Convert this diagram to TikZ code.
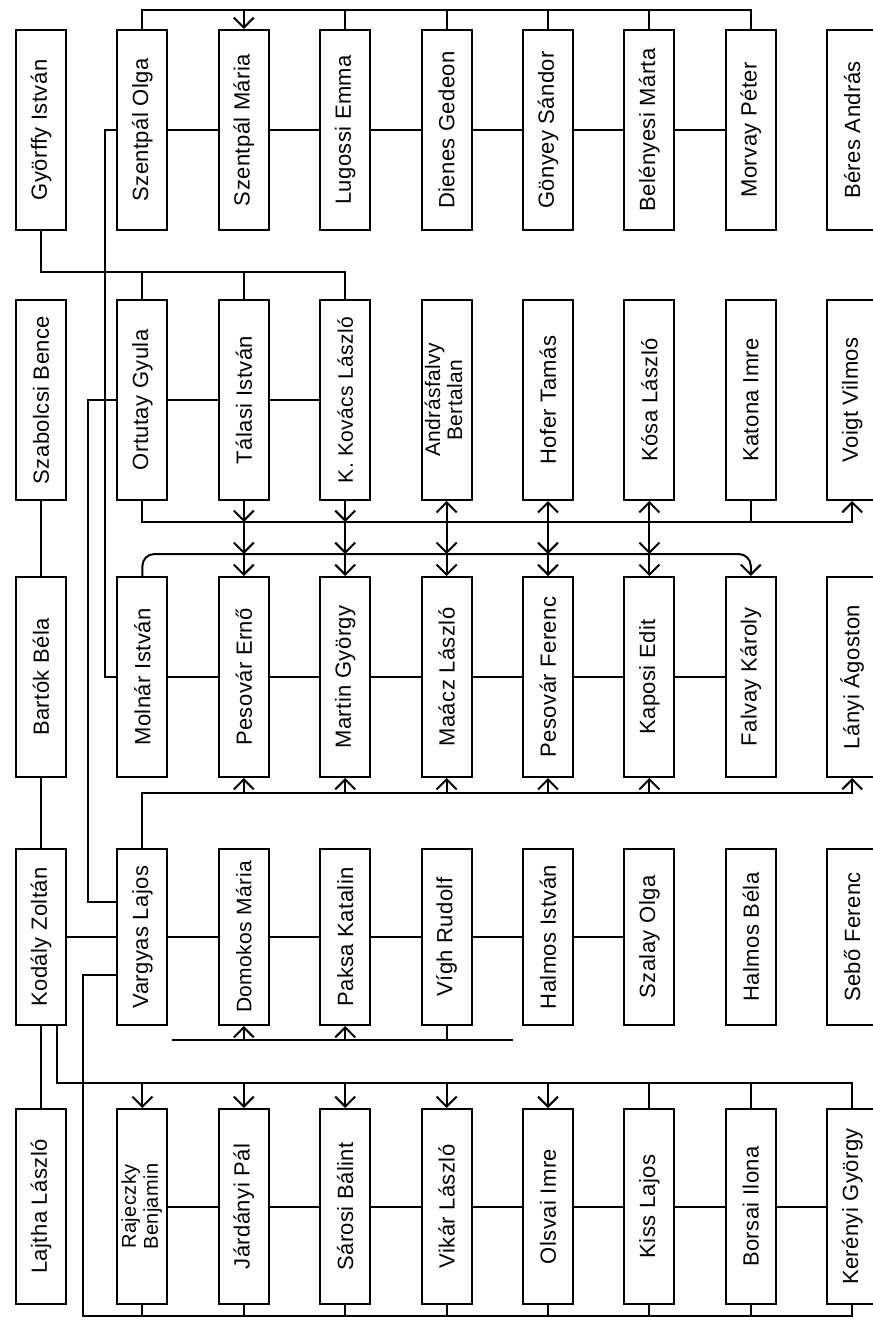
\documentclass[tikz,border=0pt]{standalone}
\usepackage{fontspec}
\setmainfont{Liberation Sans}[LetterSpace=2]
\usepackage{graphicx}
\usetikzlibrary{arrows.meta,positioning}
\newcommand{\vname}[1]{\rotatebox{90}{#1}}
\newcommand{\vnametwo}[2]{\rotatebox{90}{\begin{tabular}{@{}c@{}}#1\\#2\end{tabular}}}
\tikzset{
  nm/.style={draw, rectangle, line width=1pt, minimum width=25pt, minimum height=100pt, inner sep=0pt, font=\fontsize{11}{13}\selectfont},
  nmd/.style={nm, minimum height=88pt},
  nme/.style={nm, minimum height=97.5pt},
  ln/.style={line width=1pt},
  arr/.style={-{Straight Barb[length=5pt,width=10pt]}, line width=1pt},
}

\begin{document}
\begin{tikzpicture}[x=0.5pt, y=-0.5pt, node distance=24.7pt]
\useasboundingbox (0,0) rectangle (873,1329);

% first row
\node[nm] (gyorffy) at (41,130) {\vname{Györffy István}};
\node[nm, right=of gyorffy] (szolga) {\vname{Szentpál Olga}};
\node[nm, right=of szolga] (szmaria) {\vname{Szentpál Mária}};
\node[nm, right=of szmaria] (lugossi) {\vname{Lugossi Emma}};
\node[nm, right=of lugossi] (dienes) {\vname{Dienes Gedeon}};
\node[nm, right=of dienes] (gonyey) {\vname{Gönyey Sándor}};
\node[nm, right=of gonyey] (belenyesi) {\vname{Belényesi Márta}};
\node[nm, right=of belenyesi] (morvay) {\vname{Morvay Péter}};
\node[nm, right=of morvay] (beres) {\vname{Béres András}};

% second row
\node[nm, below=34pt of gyorffy] (szabolcsi) {\vname{Szabolcsi Bence}};
\node[nm, right=of szabolcsi] (ortutay) {\vname{Ortutay Gyula}};
\node[nm, right=of ortutay] (talasi) {\vname{Tálasi István}};
\node[nm, right=of talasi, font=\fontsize{10.5}{13}\selectfont] (kkovacs) {\vname{K. Kovács László}};
\node[nm, right=of kkovacs, font=\fontsize{10.5}{11}\selectfont] (andras) {\vnametwo{Andrásfalvy}{Bertalan}};
\node[nm, right=of andras] (hofer) {\vname{Hofer Tamás}};
\node[nm, right=of hofer] (kosa) {\vname{Kósa László}};
\node[nm, right=of kosa] (katona) {\vname{Katona Imre}};
\node[nm, right=of katona] (voigt) {\vname{Voigt Vilmos}};

% third row
\node[nm, below=37.5pt of szabolcsi] (bartok) {\vname{Bartók Béla}};
\node[nm, right=of bartok] (molnar) {\vname{Molnár István}};
\node[nm, right=of molnar] (pesovare) {\vname{Pesovár Ernő}};
\node[nm, right=of pesovare] (martin) {\vname{Martin György}};
\node[nm, right=of martin] (maacz) {\vname{Maácz László}};
\node[nm, right=of maacz] (pesovarf) {\vname{Pesovár Ferenc}};
\node[nm, right=of pesovarf] (kaposi) {\vname{Kaposi Edit}};
\node[nm, right=of kaposi] (falvay) {\vname{Falvay Károly}};
\node[nm, right=of falvay] (lanyi) {\vname{Lányi Ágoston}};

% fourth row
\node[nmd, below=35pt of bartok] (kodaly) {\vname{Kodály Zoltán}};
\node[nmd, right=of kodaly] (vargyas) {\vname{Vargyas Lajos}};
\node[nmd, right=of vargyas, font=\fontsize{10.5}{13}\selectfont] (domokos) {\vname{Domokos Mária}};
\node[nmd, right=of domokos] (paksa) {\vname{Paksa Katalin}};
\node[nmd, right=of paksa] (vigh) {\vname{Vígh Rudolf}};
\node[nmd, right=of vigh] (halmosi) {\vname{Halmos István}};
\node[nmd, right=of halmosi] (szalay) {\vname{Szalay Olga}};
\node[nmd, right=of szalay] (halmosb) {\vname{Halmos Béla}};
\node[nmd, right=of halmosb] (sebo) {\vname{Sebő Ferenc}};

% fifth row
\node[nme, below=41pt of kodaly] (lajtha) {\vname{Lajtha László}};
\node[nme, right=of lajtha, font=\fontsize{10}{11}\selectfont] (rajeczky) {\vnametwo{Rajeczky}{Benjamin}};
\node[nme, right=of rajeczky] (jardanyi) {\vname{Járdányi Pál}};
\node[nme, right=of jardanyi] (sarosi) {\vname{Sárosi Bálint}};
\node[nme, right=of sarosi] (vikar) {\vname{Vikár László}};
\node[nme, right=of vikar] (olsvai) {\vname{Olsvai Imre}};
\node[nme, right=of olsvai] (kiss) {\vname{Kiss Lajos}};
\node[nme, right=of kiss] (borsai) {\vname{Borsai Ilona}};
\node[nme, right=of borsai] (kerenyi) {\vname{Kerényi György}};

% bus levels and side lines
\coordinate (topbus) at (0,10);
\coordinate (gybus) at (0,272);
\coordinate (kbus) at (0,522);
\coordinate (mbus) at (0,554);
\coordinate (dbus) at (0,793);
\coordinate (vbusL) at (172,1040);
\coordinate (vbusR) at (513,1040);
\coordinate (ebus) at (0,1083);
\coordinate (bbus) at (0,1316);
\coordinate (molx) at (105,0);
\coordinate (ortx) at (88,0);
\coordinate (vx) at (83,0);
\coordinate (vgup) at ([yshift=17.5pt]vargyas.west);
\coordinate (vglo) at ([yshift=-19pt]vargyas.west);
\coordinate (kdl) at ([xshift=8pt]kodaly.south);

% rows
\draw[ln] (szolga) -- (szmaria) -- (lugossi) -- (dienes) -- (gonyey) -- (belenyesi) -- (morvay);
\draw[ln] (ortutay) -- (talasi) -- (kkovacs);
\draw[ln] (molnar) -- (pesovare) -- (martin) -- (maacz) -- (pesovarf) -- (kaposi) -- (falvay);
\draw[ln] (kodaly) -- (vargyas) -- (domokos) -- (paksa) -- (vigh) -- (halmosi) -- (szalay);
\draw[ln] (rajeczky) -- (jardanyi) -- (sarosi) -- (vikar) -- (olsvai) -- (kiss) -- (borsai) -- (kerenyi);

% left column
\draw[ln] (szabolcsi) -- (bartok);
\draw[ln] (bartok) -- (kodaly);
\draw[ln] (kodaly) -- (lajtha);

% top bus
\draw[ln] (szolga.north) -- (szolga.north |- topbus) -- (morvay.north |- topbus) -- (morvay.north);
\draw[arr] (szmaria.north |- topbus) -- (szmaria.north);
\draw[ln] (lugossi.north |- topbus) -- (lugossi.north);
\draw[ln] (dienes.north |- topbus) -- (dienes.north);
\draw[ln] (gonyey.north |- topbus) -- (gonyey.north);
\draw[ln] (belenyesi.north |- topbus) -- (belenyesi.north);

% Gyorffy
\draw[ln] (gyorffy.south) -- (gyorffy.south |- gybus) -- (kkovacs.north |- gybus) -- (kkovacs.north);
\draw[ln] (ortutay.north |- gybus) -- (ortutay.north);
\draw[ln] (talasi.north |- gybus) -- (talasi.north);

% side lines
\draw[ln] (molnar.west) -- (molnar.west -| molx) -- (molx |- szolga.west) -- (szolga.west);
\draw[ln] (ortutay.west) -- (ortutay.west -| ortx) -- (ortx |- vgup) -- (vgup);
\draw[ln] (vglo) -- (vglo -| vx) -- (vx |- bbus) -- (kerenyi.south |- bbus) -- (kerenyi.south);

% between second and third row
\draw[arr] (ortutay.south) -- (ortutay.south |- kbus) -- (voigt.south |- kbus) -- (voigt.south);
\draw[arr] (talasi.south) -- (talasi.south |- kbus);
\draw[arr] (kkovacs.south) -- (kkovacs.south |- kbus);
\draw[arr] (andras.south |- kbus) -- (andras.south);
\draw[arr] (hofer.south |- kbus) -- (hofer.south);
\draw[arr] (kosa.south |- kbus) -- (kosa.south);
\draw[ln] (katona.south) -- (katona.south |- kbus);

\draw[arr, rounded corners=6pt] (molnar.north) -- (molnar.north |- mbus) -- (falvay.north |- mbus) -- (falvay.north);
\draw[arr] (talasi.south |- kbus) -- (talasi.south |- mbus);
\draw[arr] (kkovacs.south |- kbus) -- (kkovacs.south |- mbus);
\draw[arr] (andras.south |- kbus) -- (andras.south |- mbus);
\draw[arr] (hofer.south |- kbus) -- (hofer.south |- mbus);
\draw[arr] (kosa.south |- kbus) -- (kosa.south |- mbus);
\draw[arr] (pesovare.north |- mbus) -- (pesovare.north);
\draw[arr] (martin.north |- mbus) -- (martin.north);
\draw[arr] (maacz.north |- mbus) -- (maacz.north);
\draw[arr] (pesovarf.north |- mbus) -- (pesovarf.north);
\draw[arr] (kaposi.north |- mbus) -- (kaposi.north);

% Vargyas upwards
\draw[arr] (vargyas.north) -- (vargyas.north |- dbus) -- (lanyi.south |- dbus) -- (lanyi.south);
\draw[arr] (pesovare.south |- dbus) -- (pesovare.south);
\draw[arr] (martin.south |- dbus) -- (martin.south);
\draw[arr] (maacz.south |- dbus) -- (maacz.south);
\draw[arr] (pesovarf.south |- dbus) -- (pesovarf.south);
\draw[arr] (kaposi.south |- dbus) -- (kaposi.south);

% Vigh
\draw[ln] (vbusL) -- (vbusR);
\draw[ln] (vigh.south) -- (vigh.south |- vbusL);
\draw[arr] (domokos.south |- vbusL) -- (domokos.south);
\draw[arr] (paksa.south |- vbusL) -- (paksa.south);

% Kodaly downwards
\draw[ln] (kdl) -- (kdl |- ebus) -- (kerenyi.north |- ebus) -- (kerenyi.north);
\draw[arr] (rajeczky.north |- ebus) -- (rajeczky.north);
\draw[arr] (jardanyi.north |- ebus) -- (jardanyi.north);
\draw[arr] (sarosi.north |- ebus) -- (sarosi.north);
\draw[arr] (vikar.north |- ebus) -- (vikar.north);
\draw[arr] (olsvai.north |- ebus) -- (olsvai.north);
\draw[ln] (kiss.north |- ebus) -- (kiss.north);
\draw[ln] (borsai.north |- ebus) -- (borsai.north);

% bottom bus
\draw[ln] (rajeczky.south) -- (rajeczky.south |- bbus);
\draw[ln] (jardanyi.south) -- (jardanyi.south |- bbus);
\draw[ln] (sarosi.south) -- (sarosi.south |- bbus);
\draw[ln] (vikar.south) -- (vikar.south |- bbus);
\draw[ln] (olsvai.south) -- (olsvai.south |- bbus);
\draw[ln] (kiss.south) -- (kiss.south |- bbus);
\draw[ln] (borsai.south) -- (borsai.south |- bbus);

\end{tikzpicture}
\end{document}
